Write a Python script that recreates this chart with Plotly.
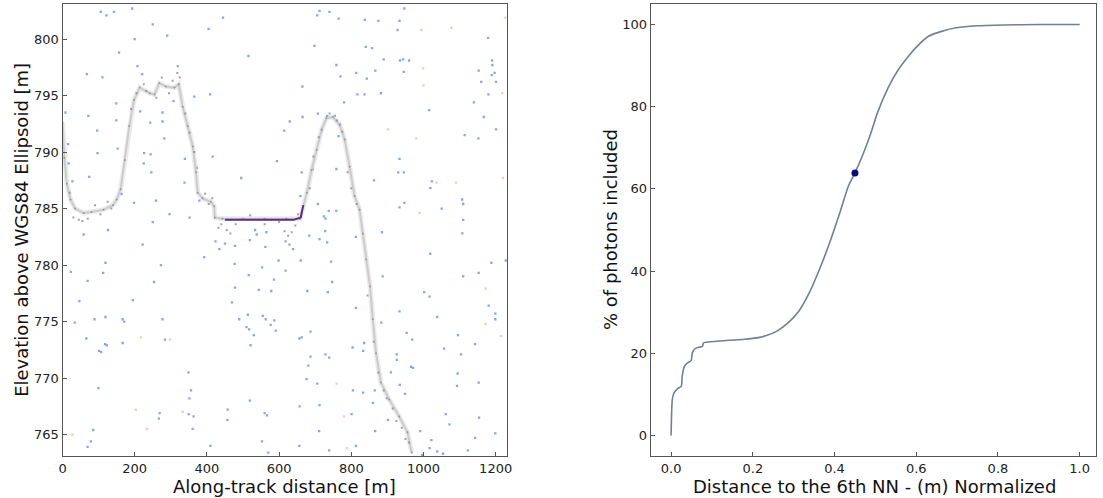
import plotly.graph_objects as go

# ---------------- Left panel data ----------------
ground_x = [0, 5, 12, 22, 35, 58.6, 80, 113.5, 140, 150, 161, 173, 185, 198, 214, 241.6, 255, 268, 286,
            310, 322, 333, 347, 361, 370, 374.5, 388, 411, 420, 422, 443, 500, 560, 620, 658, 667, 677,
            690, 704, 718, 731, 749.5, 768, 781.7, 795.4, 809, 822.9, 832, 841, 852, 859.5, 868.6, 882,
            905, 932.7, 955.6, 967.5]
ground_y = [792.6, 789.5, 787.2, 785.8, 785.0, 784.6, 784.7, 784.9, 785.3, 785.8, 786.7, 789.3, 792.3,
            794.6, 795.7, 795.2, 795.1, 796.1, 795.8, 795.7, 796.0, 794.0, 792.3, 790.5, 788.2, 786.4,
            785.9, 785.6, 785.2, 784.2, 784.1, 784.1, 784.1, 784.1, 784.1, 785.2, 786.4, 788.4, 790.2,
            792.0, 793.0, 793.1, 792.4, 791.1, 788.7, 786.1, 784.9, 782.8, 780.5, 778.1, 775.2, 772.2,
            769.6, 768.1, 766.6, 765.2, 763.4]

# scattered ground-return photons around the surface
ground_pts_x = [20, 30, 45, 55, 70, 90, 105, 125, 135, 190, 205, 225, 232, 260, 275, 295, 305, 318, 325,
                340, 352, 365, 395, 405, 415, 432, 440, 455, 465, 480, 520, 560, 600, 615, 625, 635, 645,
                652, 685, 695, 710, 740, 755, 760, 775, 790, 800, 815, 845, 862, 875, 890, 898, 915, 925,
                940, 950, 960]
ground_pts_y = [786.4, 784.2, 784.0, 783.9, 784.1, 785.3, 784.5, 785.6, 785.0, 793.8, 795.2, 796.0, 795.4,
                794.8, 796.6, 795.2, 796.3, 797.0, 796.6, 793.4, 791.7, 790.0, 786.3, 785.4, 785.9, 783.3,
                783.6, 783.1, 782.8, 783.6, 784.4, 783.6, 783.8, 783.0, 782.6, 782.9, 783.5, 784.5, 786.8,
                789.6, 791.3, 793.4, 793.2, 792.8, 791.8, 788.2, 786.8, 785.4, 777.3, 773.2, 770.5, 768.9,
                768.2, 767.3, 766.2, 765.6, 764.6, 764.3]

water_x = [450, 500, 550, 600, 640, 660, 664, 667]
water_y = [784.0, 784.0, 784.05, 784.0, 784.0, 784.2, 784.7, 785.3]

noise_x = [106, 121.6, 142.8, 193, 250, 290, 200, 156.5, 207.6, 220.5, 67.6, 110.7, 319.5, 149, 71.4,
           149, 8, 96, 243, 277, 277, 215, 307.5, 365, 409, 404.5, 282, 152.8, 97, 226, 244, 225, 74,
           27.5, 17, 15.5, 246, 338, 339, 372, 379, 259, 198, 163.7, 296.5, 352, 250,
           444.7, 515, 712, 705.7, 739.5, 765, 698, 758.7, 769.8, 813.6, 664.5, 817, 780, 707.5, 733,
           665, 629.6, 614, 718, 767.8, 765, 594, 495, 662.6, 692.8, 758.7, 659, 707.5, 737.5, 758.7,
           724, 728.5, 416,
           947, 837.5, 875, 933.6, 928, 1179, 840, 857.6, 889.7, 935, 943.5, 960, 1190, 1190.7, 866.6,
           945.5, 1153, 1197, 1189, 843, 1160, 1201, 836.5, 882, 1180, 1139.5, 1016, 1167, 1114, 1152,
           1201, 933.6, 930, 945.5, 863, 1023, 1019, 1107, 1110, 1050.6, 933.6, 947, 1110,
           58.5, 126, 222, 392.6, 119, 23, 112.6, 272.7, 69.5, 253.5, 195, 46.7, 33.8, 88.7, 119, 166.5,
           171, 277, 66, 118, 122.5, 166.5, 101.6, 107, 283.6, 348.7, 99.7, 356, 351.5, 269, 267, 349.5,
           363, 360.5, 85, 78.5, 69.5, 410,
           533.5, 564.6, 538, 519, 450, 423.7, 478, 434.7, 562, 618, 628.7, 638.7, 683.7, 712, 733,
           727.6, 812.8, 598.6, 660, 744, 618, 553, 477, 516, 585.7, 747, 478, 543.7, 578.3, 678, 735,
           469.5, 812.8, 489.6, 513.5, 554.7, 563, 586.6, 576.7, 509.6, 517, 591, 530, 687, 656, 662.6,
           521, 803.6, 687, 728.5, 738.6, 681, 676, 705.7, 804.6, 519, 457.5, 657, 712, 560, 566.5,
           800.7, 456.7, 711, 552.7, 656, 570, 738.6, 812.8,
           885, 1107.5, 1018.7, 1188, 1228, 1153, 1110, 887, 1002, 1017, 933.6, 1038, 1180.7, 1199,
           1199, 883, 953.6, 969, 1095.6, 1143, 835.6, 832.8, 1057, 1104, 926, 926, 965.6, 971, 909.7,
           1094.6, 1093, 1153, 934.5, 865, 832.8, 949, 860, 1062, 1154, 1072, 901.5, 866, 991, 1199,
           1143, 1022, 1017, 1038, 1054, 1123, 996]
noise_y = [802.4, 802.1, 802.4, 802.7, 801.3, 800.3, 800.0, 798.8, 797.6, 796.9, 796.9, 796.6, 797.6,
           794.3, 793.2, 792.8, 793.5, 791.9, 792.6, 792.7, 793.5, 793.6, 794.5, 794.9, 795.1, 800.9,
           791.2, 790.3, 789.9, 789.9, 789.8, 789.0, 787.8, 787.4, 789.0, 790.7, 788.2, 787.3, 789.4,
           788.6, 785.7, 785.7, 785.5, 786.3, 784.5, 784.2, 783.8,
           801.9, 798.5, 802.5, 802.1, 802.4, 801.8, 799.4, 797.7, 796.7, 797.0, 795.8, 795.1, 794.4,
           793.4, 793.2, 793.1, 792.7, 791.9, 791.9, 792.5, 791.4, 789.2, 787.7, 788.2, 788.5, 788.5,
           786.1, 785.4, 784.8, 784.8, 784.3, 784.1, 789.6,
           802.7, 801.7, 801.6, 801.6, 800.8, 800.1, 799.3, 799.2, 798.2, 798.1, 798.2, 798.1, 798.1,
           797.7, 797.2, 797.1, 797.2, 797.0, 796.8, 796.5, 796.2, 796.2, 795.1, 795.2, 795.1, 794.4,
           793.7, 793.1, 791.5, 791.2, 792.0, 789.4, 788.2, 788.2, 787.5, 787.4, 786.8, 785.8, 785.4,
           785.0, 785.1, 785.5, 784.0,
           782.7, 783.1, 781.8, 780.7, 780.2, 779.4, 779.3, 780.0, 778.6, 778.5, 776.9, 776.8, 774.9,
           775.2, 775.4, 775.2, 775.0, 775.2, 773.5, 773.0, 772.9, 773.1, 772.4, 772.3, 773.4, 770.5,
           769.1, 768.9, 768.2, 766.9, 766.4, 766.8, 766.6, 765.5, 765.4, 764.4, 763.9, 764.0,
           783.1, 782.9, 782.7, 782.2, 781.9, 782.1, 781.7, 781.4, 781.6, 782.1, 781.8, 781.4, 782.6,
           782.3, 782.0, 783.0, 782.5, 780.4, 780.4, 780.3, 779.5, 779.8, 780.1, 779.1, 778.7, 778.5,
           778.0, 777.8, 777.7, 777.7, 777.6, 776.7, 776.2, 775.2, 775.6, 775.5, 775.2, 775.1, 774.7,
           774.5, 774.3, 774.2, 773.8, 774.1, 773.5, 773.6, 772.9, 772.7, 771.9, 772.1, 771.8, 771.1,
           769.9, 769.5, 768.9, 768.0, 767.2, 767.5, 767.6, 766.9, 766.7, 766.8, 766.3, 765.3, 764.4,
           764.0, 763.4, 763.6, 764.0,
           782.9, 782.8, 781.0, 780.2, 780.4, 779.3, 779.0, 779.0, 777.6, 777.2, 775.9, 775.4, 776.4,
           775.7, 775.2, 774.9, 774.0, 773.4, 773.8, 773.0, 773.1, 772.4, 772.6, 772.1, 772.1, 771.6,
           771.0, 770.9, 770.5, 770.4, 769.3, 769.6, 769.4, 768.9, 768.7, 768.6, 767.8, 766.8, 766.5,
           765.9, 766.3, 765.3, 765.3, 765.1, 764.7, 764.5, 763.8, 763.5, 763.3, 763.6, 763.2]

orange_x = [994, 1077, 1227, 998.7, 1000, 1218, 902, 980, 1036, 1090, 1220, 989, 217, 298, 203, 333, 234,
            27.5, 759.6, 780, 788, 1172, 1172, 1214.5]
orange_y = [800.8, 801.0, 801.9, 797.4, 795.9, 795.2, 792.0, 791.2, 787.3, 787.3, 787.7, 784.6, 773.6,
            773.4, 767.2, 767.0, 765.5, 765.0, 769.5, 766.6, 763.8, 777.9, 774.8, 773.7]

left_xticks = [0, 200, 400, 600, 800, 1000, 1200]
left_yticks = [765, 770, 775, 780, 785, 790, 795, 800]

# ---------------- Right panel data ----------------
nn_dist = [0, 0.001, 0.003, 0.0075, 0.016, 0.025, 0.027, 0.033, 0.041, 0.049, 0.052, 0.058, 0.070,
           0.077, 0.079, 0.087, 0.12, 0.179, 0.213, 0.233, 0.259, 0.284, 0.313, 0.338, 0.363, 0.388,
           0.413, 0.434, 0.45, 0.468, 0.489, 0.505, 0.531, 0.556, 0.581, 0.602, 0.631, 0.664, 0.698,
           0.748, 0.815, 0.9, 1.0]
pct_included = [0, 4.7, 8.8, 10.4, 11.4, 12.0, 14.4, 16.9, 17.7, 18.2, 20.1, 21.1, 21.5, 21.7, 22.5,
                22.7, 23.0, 23.4, 23.8, 24.3, 25.4, 27.2, 30.3, 34.7, 40.4, 46.9, 54.2, 60.7, 63.9,
                68.0, 73.6, 78.5, 84.6, 89.0, 92.3, 94.7, 97.2, 98.4, 99.2, 99.7, 99.9, 100.0, 100.0]
knee_x = [0.45]
knee_y = [63.9]

right_xticks = [0.0, 0.2, 0.4, 0.6, 0.8, 1.0]
right_yticks = [0, 20, 40, 60, 80, 100]

FONT = "DejaVu Sans"
fig = go.Figure()

fig.add_trace(go.Scatter(x=noise_x, y=noise_y, mode="markers", xaxis="x", yaxis="y",
                         marker=dict(color="#5a8ae8", size=2.3, symbol="square", opacity=0.75,
                                     line=dict(width=0)),
                         hoverinfo="skip", showlegend=False))
fig.add_trace(go.Scatter(x=orange_x, y=orange_y, mode="markers", xaxis="x", yaxis="y",
                         marker=dict(color="#e3ad88", size=2.3, symbol="square", opacity=0.6,
                                     line=dict(width=0)),
                         hoverinfo="skip", showlegend=False))
fig.add_trace(go.Scatter(x=ground_x, y=ground_y, mode="lines", xaxis="x", yaxis="y",
                         line=dict(color="rgba(175,175,175,0.25)", width=5),
                         hoverinfo="skip", showlegend=False))
fig.add_trace(go.Scatter(x=ground_x, y=ground_y, mode="lines", xaxis="x", yaxis="y",
                         line=dict(color="#cccccc", width=2),
                         hoverinfo="skip", showlegend=False))
fig.add_trace(go.Scatter(x=ground_x, y=ground_y, mode="markers", xaxis="x", yaxis="y",
                         marker=dict(color="#9a9a9a", size=2, line=dict(width=0)),
                         hoverinfo="skip", showlegend=False))
fig.add_trace(go.Scatter(x=ground_pts_x, y=ground_pts_y, mode="markers", xaxis="x", yaxis="y",
                         marker=dict(color="#8c8c8c", size=2, symbol="square", opacity=0.8,
                                     line=dict(width=0)),
                         hoverinfo="skip", showlegend=False))
fig.add_trace(go.Scatter(x=water_x, y=water_y, mode="lines", xaxis="x", yaxis="y",
                         line=dict(color="#5e2d86", width=2),
                         hoverinfo="skip", showlegend=False))

fig.add_trace(go.Scatter(x=nn_dist, y=pct_included, mode="lines", xaxis="x2", yaxis="y2",
                         line=dict(color="#6e8197", width=1.6, shape="spline", smoothing=0.6),
                         hoverinfo="skip", showlegend=False))
fig.add_trace(go.Scatter(x=knee_x, y=knee_y, mode="markers", xaxis="x2", yaxis="y2",
                         marker=dict(color="#0b0b7a", size=7),
                         hoverinfo="skip", showlegend=False))

axis_common = dict(showgrid=False, zeroline=False, showline=True, mirror=True, linecolor="#555555",
                   linewidth=1.2, ticks="inside", ticklen=4, tickcolor="#555555",
                   tickfont=dict(family=FONT, size=13, color="#222222"))

fig.update_layout(
    width=1103, height=498,
    margin=dict(l=0, r=0, t=0, b=0),
    paper_bgcolor="white", plot_bgcolor="white",
    xaxis=dict(domain=[59 / 1103, 507 / 1103], range=[0, 1231], tickvals=left_xticks,
               anchor="y", **axis_common),
    yaxis=dict(domain=[1 - 456 / 498, 1 - 4 / 498], range=[763.1, 803.1], tickvals=left_yticks,
               anchor="x", **axis_common),
    xaxis2=dict(domain=[652 / 1103, 1101 / 1103], range=[-0.05, 1.04], tickvals=right_xticks,
                tickformat=".1f", anchor="y2", **axis_common),
    yaxis2=dict(domain=[1 - 456 / 498, 1 - 4 / 498], range=[-5, 105], tickvals=right_yticks,
                anchor="x2", **axis_common),
    annotations=[
        dict(text="Along-track distance [m]", x=283 / 1103, y=1 - 486 / 498, xref="paper", yref="paper",
             showarrow=False, font=dict(family=FONT, size=18, color="#111111"), xanchor="center", yanchor="middle"),
        dict(text="Elevation above WGS84 Ellipsoid [m]", x=18 / 1103, y=1 - 230 / 498, xref="paper",
             yref="paper", showarrow=False, textangle=-90, font=dict(family=FONT, size=18, color="#111111"),
             xanchor="center", yanchor="middle"),
        dict(text="Distance to the 6th NN - (m) Normalized", x=878 / 1103, y=1 - 486 / 498, xref="paper",
             yref="paper", showarrow=False, font=dict(family=FONT, size=18, color="#111111"),
             xanchor="center", yanchor="middle"),
        dict(text="% of photons included", x=612 / 1103, y=1 - 230 / 498, xref="paper", yref="paper",
             showarrow=False, textangle=-90, font=dict(family=FONT, size=18, color="#111111"),
             xanchor="center", yanchor="middle"),
    ],
)

fig.write_html("out.html")
